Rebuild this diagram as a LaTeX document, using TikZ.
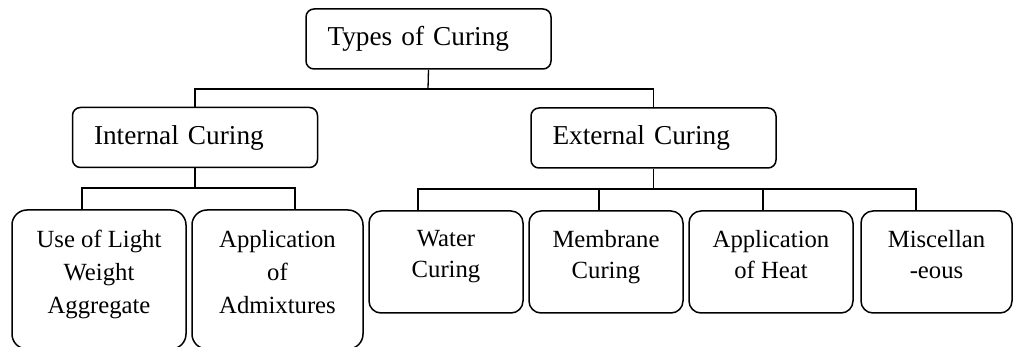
\documentclass[tikz,border=0pt]{standalone}
\usepackage{fontspec}
\setmainfont{Liberation Serif}

\tikzset{cure1/.style = {draw, rounded corners=8pt, line width=1.5pt,
                         inner xsep=21.5pt, text width=#1, align=left,
                         minimum height=60pt,
                         font=\fontsize{27.3}{31}\selectfont},
         cure1/.default=202pt,
         cure2/.style = {draw, rounded corners=12pt, line width=1.5pt,
                         inner sep=0pt, align=center, minimum width=#1,
                         minimum height=102pt, text depth=15.5pt,
                         font=\fontsize{24.7}{31}\selectfont},
         cure3/.style = {cure2=#1, rounded corners=15pt, minimum height=139pt,
                         font=\fontsize{24.7}{33}\selectfont},
         lien/.style = {line width=1.3pt}
        }

\begin{document}
\begin{tikzpicture}[x=1pt, y=1pt]
  \useasboundingbox (0,0) rectangle (1013,-347);
  \node[cure1] (types) at (428.5,-39) {Types of Curing};
  \node[cure1] (int) at (195,-137.5) {Internal Curing};
  \node[cure1] (ext) at (653.5,-138) {External Curing};
  \node[cure3=174pt] (light) at (99,-279.5) {Use of Light\\Weight\\Aggregate};
  \node[cure3=171pt] (admix) at (277.5,-279.5) {Application\\of\\Admixtures};
  \node[cure2=154pt] (water) at (446,-262) {Water\\Curing};
  \node[cure2=154pt] (memb) at (606,-262) {Membrane\\Curing};
  \node[cure2=164pt] (heat) at (771,-262) {Application\\of Heat};
  \node[cure2=151pt] (misc) at (936.5,-262) {Miscellan\\-eous};
  % premier niveau
  \coordinate (b1) at (428,-89);
  \draw[lien] (types.south) -- (b1);
  \draw[lien] (int.north) |- (b1) -| (ext.north);
  % interne
  \coordinate (b2) at (195,-188);
  \draw[lien] (int.south) -- (b2);
  \draw[lien] ([xshift=-17pt]light.north) |- (b2) -| ([xshift=17.5pt]admix.north);
  % externe
  \coordinate (b3) at (652,-189);
  \draw[lien] (ext.south) -- (ext.south |- b3);
  \draw[lien] ([xshift=-28pt]water.north) |- (b3) -| ([xshift=-20.5pt]misc.north);
  \foreach \n/\d in {memb/-7, heat/-8}
      {\draw[lien] ([xshift=\d pt]\n.north) -- ([xshift=\d pt]\n.north |- b3);};
\end{tikzpicture}
\end{document}
